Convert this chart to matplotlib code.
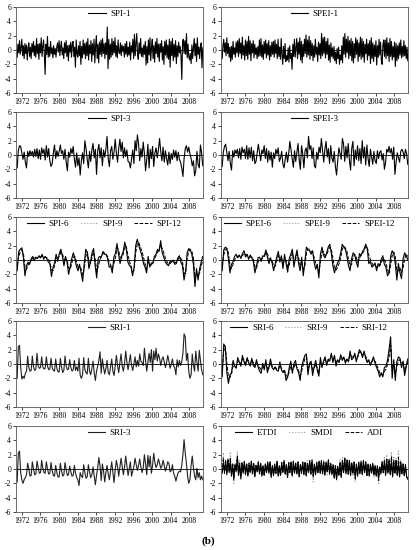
import numpy as np
import matplotlib
matplotlib.use("Agg")
import matplotlib.pyplot as plt

plt.rcParams['font.family'] = ['Liberation Serif', 'DejaVu Serif']
plt.rcParams['axes.unicode_minus'] = False

start_year = 1971.0
end_year = 2010.9
year_ticks = [1972, 1976, 1980, 1984, 1988, 1992, 1996, 2000, 2004, 2008]
y_ticks = [-6, -4, -2, 0, 2, 4, 6]

# SPI-1 (6 values per year)
spi1 = [
    -1.0, 0.8, -0.4, 1.3, -0.6, 0.5,
    1.5, -0.8, 0.6, -1.2, 0.9, -0.5,
    0.7, -1.4, 0.3, 1.0, -0.9, 0.4,
    -1.2, 0.9, -0.3, 1.2, -0.8, 0.6,
    -1.0, 1.6, -0.5, 0.8, -1.3, 0.9,
    -0.4, 1.7, -0.9, 0.5, 1.4, -0.7,
    -3.4, 0.8, -0.6, 1.9, -1.0, 0.4,
    -0.9, 1.2, -0.5, 0.3, -1.1, 0.6,
    -0.6, 0.2, -1.0, 0.4, 1.0, -0.3,
    1.3, -0.8, 0.5, 1.2, -0.7, 0.3,
    -1.2, 1.0, -0.4, 1.3, -0.9, 0.6,
    -1.5, 0.7, -0.3, 1.1, -1.0, 0.8,
    1.2, -0.9, 0.4, -2.4, 1.4, -0.5,
    -1.0, 0.6, -0.8, 1.2, -2.0, 0.5,
    -1.1, 1.4, -0.6, 0.9, -1.2, 1.1,
    -0.8, 1.6, -1.4, 0.7, -0.5, 1.3,
    -1.6, 0.9, -0.7, 1.5, -1.8, 0.6,
    2.0, -1.2, 0.8, -1.8, 1.1, -0.6,
    1.4, -0.9, 1.6, -0.5, 0.9, -1.2,
    1.0, -0.6, 3.2, -2.6, 1.5, -1.3,
    0.8, -1.0, 1.6, -0.7, 1.2, -0.4,
    1.7, -0.9, 0.6, -1.1, 1.4, -0.3,
    -0.5, 1.0, -0.8, 0.7, -0.2, 0.5,
    -1.0, 0.9, -0.6, 1.2, -0.9, 0.4,
    -0.7, 1.1, -1.4, 0.6, -0.3, 1.5,
    -1.2, 2.2, -0.8, 0.9, 2.3, -0.6,
    -1.3, 1.0, -0.5, 1.6, -0.9, 0.3,
    -1.0, 0.7, -0.6, 1.2, -2.1, 0.5,
    -1.8, 1.4, -0.7, 1.7, -1.5, 0.4,
    1.5, -1.2, 0.6, -1.7, 1.1, -0.5,
    1.6, -1.0, 0.8, -1.6, 0.9, -0.3,
    1.3, -1.4, 0.5, -2.0, 1.2, -0.7,
    1.4, -1.1, 0.7, -1.3, 1.5, -2.4,
    1.2, -0.8, 1.6, -1.5, 0.8, -1.0,
    1.3, -1.9, 0.6, -0.9, 1.1, -0.4,
    0.5, -0.9, -4.1, 1.2, 1.5, -0.5,
    1.3, -0.6, 2.3, -1.1, 0.8, -0.9,
    -1.4, -0.5, -1.9, 0.7, -1.2, 0.4,
    1.6, -0.8, 0.9, -1.6, 1.7, -0.6,
    0.4, -1.2, 0.5, 1.0, -2.5, 0.3,
]

# SPEI-1 (6 values per year)
spei1 = [
    -1.2, 0.6, 1.5, -0.3, 1.0, -0.8,
    1.7, -0.5, 0.9, -1.0, 0.4, -1.6,
    0.5, -1.3, 1.2, -0.6, 0.3, -1.0,
    1.1, -0.4, 1.3, -0.9, 1.6, -0.5,
    1.0, -1.2, 1.8, -0.7, 0.6, -1.4,
    1.4, -0.8, 1.2, -1.3, 1.9, -0.6,
    1.3, -1.5, 0.9, -0.4, 1.3, -1.1,
    0.8, -0.6, 0.3, -1.2, 0.5, -0.9,
    1.4, -0.8, 1.6, -1.0, 0.7, -1.3,
    1.2, -0.5, 1.4, -1.1, 0.9, -0.7,
    1.3, -1.4, 0.6, -0.9, 1.1, -0.6,
    1.2, -1.0, 1.4, -0.5, 0.8, -1.2,
    1.5, -0.9, 0.4, -1.3, 1.6, -0.7,
    -2.0, 0.5, -1.2, 0.9, -1.6, -0.8,
    -1.4, 0.3, -1.7, 0.6, -1.2, -0.5,
    -2.7, 0.8, -0.9, 1.5, -1.0, 0.4,
    1.6, -1.2, 1.1, -0.6, 1.7, -1.4,
    1.2, -1.8, 0.8, -0.9, 1.5, -0.5,
    2.1, -1.0, 1.4, -0.7, 1.9, -1.3,
    1.3, -0.8, 0.9, -1.5, 0.6, -1.0,
    1.5, -0.6, 0.4, -1.6, 1.1, -0.7,
    0.9, -1.2, 2.3, -0.8, 1.7, -0.5,
    1.8, -1.1, 1.2, -0.6, 1.6, -1.4,
    0.7, -1.7, 1.0, -0.9, 0.3, -1.2,
    0.5, -1.5, -0.3, -1.9, 0.2, -1.2,
    0.4, -2.0, -0.7, -1.4, 0.6, -1.8,
    1.8, -0.6, 2.3, -1.0, 1.5, -0.4,
    1.9, -1.2, 1.3, -0.8, 1.6, -1.5,
    1.2, -1.8, 0.9, -1.1, 1.7, -0.6,
    1.4, -1.6, 1.0, -0.9, 1.8, -1.3,
    1.6, -1.0, 1.2, -1.7, 0.8, -0.5,
    1.5, -1.4, 0.9, -0.8, 1.3, -1.9,
    1.7, -1.2, 1.0, -1.6, 0.7, -0.9,
    1.3, -2.1, 0.6, -1.0, 1.5, -0.7,
    1.1, -1.5, -2.0, 0.7, 1.4, -0.9,
    1.4, -1.2, 1.7, -0.8, 1.0, -1.6,
    1.6, -0.9, 1.2, -1.4, 0.5, -1.0,
    1.1, -2.3, 0.9, -1.5, 0.6, -1.2,
    1.0, -0.7, 1.4, -1.1, 0.5, -0.9,
    1.3, -0.8, 0.6, -1.2, 0.4, -1.5,
]

# SPI-3 (4 values per year)
spi3 = [
    -1.8, 0.6, 1.3, 1.2,   0.3, -0.6, 0.4, -1.0,   -1.8, 0.5, -0.2, 0.6,
    0.0, 0.5, -0.3, 0.8,   -0.2, 0.9, -0.5, 0.7,   -0.6, 1.0, 0.2, 0.8,
    -0.7, 1.3, -0.3, 0.9,  -0.8, -1.6, -1.2, 0.3,  1.4, -0.5, 0.6, -0.2,
    0.5, 1.4, 0.2, 0.6,    -0.6, 0.8, -1.0, -2.2,  0.4, -0.3, 0.9, 0.2,
    1.2, -0.6, -1.7, 0.3,  -1.5, -0.4, -2.8, -0.8, 0.3, -1.2, 2.0, 0.9,
    -0.6, -1.8, 0.5, -0.9, 0.7, 1.6, -0.4, 0.8,   -2.7, 0.6, 1.5, -0.4,
    1.0, -1.5, 0.7, -0.3,  0.8, 2.6, -0.5, -1.6,  0.6, 1.2, -0.6, 0.4,
    2.2, 0.3, -1.0, 0.9,   2.2, 0.5, 1.8, -0.4,   1.0, -0.2, 0.7, -0.9,
    -1.0, -1.8, -0.5, 0.7, -1.2, 2.0, 0.6, 2.8,   1.5, -0.8, 0.9, -0.3,
    1.8, 0.2, -2.2, -0.6,  1.5, -1.8, 0.8, -0.5,  1.2, -1.6, 0.3, 1.0,
    -0.4, 0.7, 2.3, 0.5,   -0.8, 1.1, -1.0, 0.6,  -0.5, -1.4, 0.4, -1.2,
    0.2, -0.6, 0.7, -0.3,  0.6, -0.8, 0.4, -0.6,  -1.0, -1.8, -3.0, -0.5,
    0.9, 1.3, 0.4, 1.1,    0.2, -0.5, -1.5, -0.8, -2.9, -2.2, 0.5, -1.3,
    -1.8, 1.4, 0.3, -1.5,
]

# SPEI-3 (4 values per year)
spei3 = [
    -1.6, 0.4, 1.2, 1.5,   0.3, -0.8, 0.5, -1.2,  -2.1, 0.6, -0.3, 0.7,
    0.2, 0.8, -0.4, 0.9,   -0.6, 1.1, 0.3, 0.8,   -0.5, 1.3, -0.6, 1.0,
    -0.4, 1.1, -0.8, 0.6,  -1.2, -0.9, 0.3, 1.5,  0.4, -0.8, 0.7, 0.2,
    1.3, -0.5, 0.9, -1.0,  0.6, -0.7, 0.4, -1.7,  0.3, -0.5, 0.8, 0.1,
    1.0, -0.9, -0.4, 0.5,  -1.2, -1.8, -0.6, 0.4, -1.0, 0.2, 1.9, 0.7,
    -0.5, -1.7, 0.6, -0.9, 0.4, 1.6, -0.7, -2.0,  1.3, 0.2, -1.8, 0.6,
    1.0, -0.4, 2.6, 0.8,   1.3, -0.5, 1.0, -1.5,  -1.8, 0.4, -0.6, 1.1,
    0.3, 2.3, 0.6, -1.0,   0.8, 1.9, -0.3, 0.9,   -1.2, 1.3, -0.4, -1.0,
    0.5, -1.6, -2.8, -0.8, 1.0, 0.2, -0.6, 2.3,   1.5, -0.9, 1.2, -0.4,
    1.6, -0.7, -2.1, 0.9,  1.9, -1.5, 0.7, -0.6,  1.3, -0.8, 0.9, -1.2,
    2.0, -0.4, 1.1, -1.4,  1.4, -0.5, -1.6, 0.8,  -0.3, -1.3, 0.5, -0.8,
    -1.2, 0.6, -0.5, 0.4,  0.6, -0.7, 0.2, -2.0,  -1.0, 0.8, 0.4, 1.2,
    0.3, 0.9, -0.6, 1.1,   -2.7, -1.0, 0.3, -0.4, -1.0, 0.5, 0.8, 0.4,
    -0.5, 0.8, 0.2, -1.3,
]

# SPI-6, SPI-9, SPI-12 (3 values per year)
spi6 = [
    -1.5, 1.2, 1.5,  1.7, 0.3, -2.2,  -0.8, -0.3, -0.6,  0.2, 0.5, -0.1,
    0.4, 0.2, 0.6,   0.3, 0.8, 0.1,   0.5, 0.2, -0.3,    -0.5, -2.3, -1.0,
    -0.4, 0.8, -0.2, 0.9, 1.5, 0.5,   -0.8, 0.5, -0.3,   -2.0, -0.9, 0.2,
    1.0, 0.2, -0.9,  -1.5, -0.6, -1.8, -3.0, -0.5, 1.5,  1.0, -1.2, -0.3,
    1.0, 1.6, -0.8,  -2.5, 0.3, 0.5,  0.4, 1.2, 0.8,     0.8, 0.2, -1.0,
    -0.9, -1.8, 0.4, 0.9, 2.3, 0.8,   -0.5, 0.6, 1.2,    2.5, 1.4, -0.3,
    -0.8, -1.0, -2.2, -1.0, 2.0, 2.9, 2.0, 1.3, 0.6,     -0.5, -1.0, -1.8,
    0.5, -1.0, -0.4, -0.5, 0.5, 0.8,  1.5, 1.2, 2.7,     1.0, 0.4, -0.3,
    -0.6, -0.8, -0.2, -0.3, 0.0, -0.6, -0.5, 0.3, 0.6,   -0.3, -0.8, -2.8,
    -1.5, 1.0, 1.6,  1.4, 0.8, -0.6,  -3.7, -1.2, -2.8,  -1.2, -0.3, 0.5,
]
spi9 = [
    -1.0, 0.8, 1.3,  1.6, 0.8, -1.5,  -1.2, -0.5, -0.4,  0.0, 0.4, 0.2,
    0.3, 0.3, 0.5,   0.4, 0.6, 0.3,   0.4, 0.3, 0.0,     -0.3, -1.8, -1.4,
    -0.6, 0.4, 0.2,  0.6, 1.3, 0.8,   -0.3, 0.2, -0.1,   -1.5, -1.2, -0.2,
    0.7, 0.5, -0.5,  -1.2, -0.9, -1.4, -2.5, -1.0, 1.0,  1.2, -0.6, -0.5,
    0.6, 1.4, -0.2,  -2.0, -0.5, 0.3, 0.5, 1.0, 1.0,     0.7, 0.4, -0.6,
    -0.9, -1.5, -0.2, 0.6, 2.0, 1.2,  0.0, 0.4, 1.0,     2.2, 1.7, 0.2,
    -0.5, -1.0, -1.9, -1.3, 1.5, 2.6, 2.3, 1.6, 0.9,     0.0, -0.8, -1.5,
    0.0, -0.8, -0.6, -0.4, 0.3, 0.7,  1.3, 1.4, 2.4,     1.4, 0.7, 0.0,
    -0.4, -0.7, -0.4, -0.3, -0.1, -0.4, -0.5, 0.1, 0.5,  0.0, -0.5, -2.4,
    -1.8, 0.6, 1.4,  1.5, 1.0, -0.1,  -3.0, -1.8, -2.4,  -1.6, -0.6, 0.3,
]
spi12 = [
    -0.8, 0.5, 1.1,  1.4, 1.0, -1.0,  -1.3, -0.7, -0.4,  -0.1, 0.3, 0.3,
    0.3, 0.3, 0.4,   0.4, 0.5, 0.4,   0.4, 0.3, 0.1,     -0.2, -1.4, -1.5,
    -0.8, 0.1, 0.3,  0.5, 1.1, 0.9,   0.1, 0.1, 0.0,     -1.1, -1.3, -0.5,
    0.4, 0.5, -0.2,  -0.9, -1.0, -1.2, -2.1, -1.3, 0.5,  1.1, -0.2, -0.5,
    0.3, 1.1, 0.2,   -1.6, -0.9, 0.0, 0.5, 0.9, 1.0,     0.8, 0.5, -0.3,
    -0.7, -1.2, -0.5, 0.3, 1.7, 1.4,  0.4, 0.3, 0.8,     1.9, 1.9, 0.7,
    -0.2, -0.8, -1.6, -1.4, 1.0, 2.2, 2.4, 1.8, 1.2,     0.4, -0.5, -1.2,
    -0.3, -0.7, -0.7, -0.4, 0.1, 0.6, 1.1, 1.4, 2.1,     1.6, 1.0, 0.3,
    -0.2, -0.6, -0.5, -0.3, -0.2, -0.3, -0.4, 0.0, 0.4,  0.2, -0.2, -1.9,
    -1.9, 0.2, 1.2,  1.5, 1.2, 0.3,   -2.4, -2.0, -2.1,  -1.8, -0.9, 0.0,
]

# SPEI-6, SPEI-9, SPEI-12 (3 values per year)
spei6 = [
    -1.5, 1.4, 1.8,  1.6, 0.2, -1.8,  -0.6, -0.2, 0.5,   0.8, 0.3, 0.7,
    0.2, 0.9, 1.3,   0.4, 0.8, 0.1,   0.7, 0.3, -0.2,    -1.8, -0.8, 0.3,
    0.4, -0.2, 0.6,  0.5, 1.4, 0.4,   -0.5, 0.3, -0.4,   -1.5, -0.5, 0.4,
    1.2, -0.3, 0.6,  -1.2, 0.8, -0.5, -1.7, 0.2, 0.8,    1.5, -1.0, 0.4,
    1.4, -0.5, -1.5, 0.4, -2.2, -0.3, 1.8, 1.5, 1.3,     0.8, 1.3, -0.4,
    -1.3, -0.6, -2.5, 0.8, 1.8, 0.6,  0.3, 1.0, 1.8,     2.2, 0.9, -0.8,
    -1.8, -1.0, -0.4, 0.0, 1.0, 2.2,  1.8, 1.5, 0.5,     -0.8, -1.5, 0.2,
    1.0, 0.7, -0.3,  -1.0, 0.9, 0.6,  1.2, 1.5, 2.2,     1.6, -0.5, -0.2,
    -1.0, -0.8, -0.4, -1.5, -0.5, -0.8, 0.1, 0.6, -0.6,  -1.0, -2.2, -1.8,
    0.5, 1.3, 0.9,   -0.5, -2.8, -0.5, -1.8, -2.6, 0.2,  1.0, 0.6, 0.0,
]
spei9 = [
    -1.0, 1.0, 1.6,  1.7, 0.7, -1.2,  -1.0, -0.4, 0.2,   0.6, 0.5, 0.6,
    0.4, 0.7, 1.1,   0.7, 0.7, 0.3,   0.5, 0.4, 0.0,     -1.3, -1.1, 0.0,
    0.3, 0.0, 0.4,   0.5, 1.2, 0.7,   -0.1, 0.1, -0.2,   -1.1, -0.8, 0.1,
    0.9, 0.2, 0.3,   -0.8, 0.3, -0.2, -1.3, -0.4, 0.5,   1.3, -0.3, 0.1,
    1.1, 0.1, -1.1,  -0.1, -1.7, -0.6, 1.4, 1.6, 1.4,    1.0, 1.1, 0.1,
    -0.9, -0.8, -2.0, 0.2, 1.5, 1.0,  0.4, 0.8, 1.6,     2.0, 1.3, -0.2,
    -1.4, -1.3, -0.7, -0.3, 0.6, 1.9, 1.9, 1.6, 0.9,     -0.3, -1.2, -0.3,
    0.7, 0.8, 0.1,   -0.6, 0.5, 0.7,  1.0, 1.4, 2.0,     1.8, 0.2, -0.1,
    -0.7, -0.9, -0.6, -1.2, -0.8, -0.7, -0.2, 0.4, -0.2, -0.7, -1.8, -2.0,
    -0.2, 1.0, 1.1,  0.1, -2.2, -1.2, -1.4, -2.2, -0.6,  0.6, 0.8, 0.3,
]
spei12 = [
    -0.8, 0.7, 1.4,  1.6, 1.0, -0.7,  -1.2, -0.6, 0.0,   0.4, 0.5, 0.6,
    0.5, 0.6, 0.9,   0.8, 0.7, 0.5,   0.4, 0.4, 0.1,     -0.9, -1.2, -0.3,
    0.1, 0.1, 0.3,   0.5, 1.0, 0.9,   0.2, 0.0, -0.1,    -0.8, -0.9, -0.2,
    0.6, 0.4, 0.2,   -0.5, 0.0, -0.1, -1.0, -0.7, 0.2,   1.0, 0.2, 0.0,
    0.8, 0.4, -0.7,  -0.4, -1.3, -0.9, 0.9, 1.5, 1.5,    1.2, 1.0, 0.4,
    -0.5, -0.9, -1.6, -0.3, 1.1, 1.2, 0.6, 0.7, 1.3,     1.8, 1.5, 0.3,
    -1.0, -1.4, -1.0, -0.5, 0.3, 1.5, 1.9, 1.7, 1.2,     0.1, -0.8, -0.6,
    0.4, 0.8, 0.4,   -0.3, 0.2, 0.7,  0.9, 1.3, 1.8,     1.9, 0.7, 0.1,
    -0.4, -0.8, -0.7, -1.0, -1.0, -0.8, -0.4, 0.1, 0.1,  -0.4, -1.3, -1.9,
    -0.7, 0.6, 1.1,  0.5, -1.6, -1.5, -1.1, -1.8, -1.1,  0.1, 0.8, 0.5,
]

# SRI-1 and SRI-3 (4 values per year)
sri1 = [
    -2.0, 2.4, 2.6, -0.4,  -2.1, -1.7, -2.0, -1.3, -1.0, 1.1, -0.5, -1.0,
    -0.9, 1.1, -0.4, -0.9, -0.7, 1.5, -0.3, -0.6,  -0.5, 1.0, -0.4, -0.7,
    -0.6, 1.0, -0.3, -0.8, -0.7, 0.8, -0.5, -0.9,  -1.0, 0.7, -0.6, -1.1,
    -1.1, 0.8, -0.4, -1.2, -0.9, 1.1, -0.3, -0.8,  -0.7, 0.6, -0.5, -1.0,
    -0.8, 0.5, -0.9, -0.4, -1.0, 0.8, -1.6, -2.0,  -1.5, 0.9, -0.8, -1.2,
    -1.4, 0.8, -1.0, -1.5, -0.6, 0.4, -1.2, -2.3,  -1.0, -0.3, 0.5, 1.7,
    -1.3, 0.7, -0.5, -1.4, -0.6, 0.5, -1.2, -1.5,  -0.4, 0.7, -1.0, -1.6,
    -0.3, 1.2, -0.2, -1.2, 0.2, 1.4, -0.3, -1.0,   0.1, 1.8, 0.3, -0.8,
    0.3, 1.3, -0.2, -0.9,  0.0, 1.0, -0.4, 0.5,    -0.3, 1.4, 0.4, 0.2,
    -0.2, 2.2, 0.5, -1.0,  0.3, 1.5, 0.2, 2.0,     -1.0, 1.8, 0.6, 2.2,
    0.4, 1.4, 0.8, -0.2,   0.6, 1.0, 0.3, -0.5,    0.2, 1.2, 0.4, -0.6,
    0.0, 0.7, -0.3, -0.5,  -1.5, 0.6, -0.4, 0.5,   -0.2, 0.3, 1.5, 4.2,
    3.8, 0.5, 1.5, -1.0,   -2.0, -1.5, 1.4, -0.2,  -1.0, 1.8, 0.3, -1.0,
    1.9, 0.6, -0.8, -1.5,
]
sri3 = [
    -1.8, 2.2, 2.5, -0.5,  -1.5, -2.0, -1.5, -1.2, -0.8, 0.8, 0.0, -1.0,
    -0.9, 1.0, 0.0, -0.8,  -0.7, 1.1, 0.2, -0.6,   -0.5, 1.2, 0.1, -0.5,
    -0.6, 1.0, 0.0, -0.7,  -0.6, 0.9, -0.2, -0.9,  -1.0, 0.5, -0.5, -1.1,
    -1.1, 0.8, -0.2, -1.0, -0.8, 0.9, -0.1, -0.9,  -0.8, 0.4, -0.4, -1.0,
    -0.9, 0.5, -0.6, -1.2, -1.5, -2.3, -0.5, -1.0, -1.2, 0.6, -0.5, -1.3,
    -1.1, 0.6, -0.4, -1.2, -0.8, 0.3, -1.0, -2.2,  -0.9, 0.2, 1.6, 0.4,
    -1.6, 0.7, -0.3, -1.8, -0.5, 0.5, -0.7, -1.5,  -0.2, 1.0, -0.4, -1.9,
    -0.1, 1.2, 0.3, -1.0,  0.2, 1.5, 0.4, -0.8,    0.3, 1.8, 0.5, -0.9,
    0.0, 1.0, -1.0, -0.3,  0.4, 1.5, 0.6, -0.2,    0.5, 1.4, 0.3, -0.5,
    0.2, 2.0, 0.7, -0.8,   1.9, 0.3, 1.8, -0.6,    0.5, 2.2, 0.9, 0.2,
    0.6, 1.4, 0.8, 0.1,    0.4, 1.2, 0.5, -0.3,    0.3, 1.0, 0.8, -0.4,
    -0.2, 0.6, -0.6, -1.0, -1.7, -1.0, -0.5, -0.3, -0.4, 0.5, 2.0, 4.1,
    2.2, 0.8, -1.0, -2.0,  -1.5, 0.5, 1.8, 0.2,    -1.0, -1.5, 0.1, -1.2,
    -0.5, -1.5, -1.0, -1.5,
]

# SRI-6, SRI-9, SRI-12 (3 values per year)
sri6 = [
    -1.8, 2.8, 2.4,  -1.2, -2.7, -1.5, -1.2, 0.5, -0.3,  -0.6, 0.9, 0.2,
    -0.3, 1.2, 0.3,  -0.2, 0.9, 0.1,  -0.3, 0.8, -0.2,   -0.5, 0.6, -0.4,
    -1.0, -1.3, 0.1, -0.8, 0.6, -1.2, -0.4, 0.7, -0.5,   -0.8, -0.4, -0.9,
    -1.0, 0.3, -0.8, -1.2, -0.9, -2.3, -1.8, -0.5, 0.4,  -1.3, 0.0, 0.5,
    -0.7, -1.2, -2.3, -0.3, 0.5, 1.2, 1.4, -1.5, 0.1,    0.4, -1.6, -0.3,
    0.5, -0.9, -1.7, 0.9, -0.5, 0.4,  1.0, -0.2, 0.7,    0.4, 1.5, 0.2,
    1.2, -0.3, 0.6,  0.2, 1.3, 0.5,   1.0, 0.1, 0.7,     0.3, 1.8, 0.6,
    0.8, 1.5, 0.3,   1.2, 2.0, 1.6,   0.9, 1.8, 0.8,     0.2, 0.6, -0.2,
    0.4, 1.0, 0.1,   -0.5, -1.0, -1.8, -1.2, -1.8, -0.5, -0.3, 0.5, 2.0,
    3.8, -2.0, 0.6,  -2.3, 0.3, 1.0,  0.8, -0.5, 0.4,    -1.6, -0.2, 0.7,
]
sri9 = [
    -1.4, 2.3, 2.6,  -0.5, -2.2, -1.8, -1.3, 0.1, -0.2,  -0.5, 0.6, 0.4,
    -0.1, 0.9, 0.5,  0.0, 0.7, 0.3,   -0.1, 0.6, 0.1,    -0.3, 0.4, -0.2,
    -0.7, -1.0, -0.3, -0.5, 0.3, -0.8, -0.6, 0.4, -0.3,  -0.6, -0.5, -0.8,
    -0.9, 0.0, -0.7, -1.0, -1.0, -1.9, -1.9, -0.9, 0.0,  -1.0, -0.3, 0.2,
    -0.6, -1.0, -1.9, -0.8, 0.2, 0.9, 1.2, -0.9, -0.2,   0.2, -1.1, -0.5,
    0.2, -0.7, -1.4, 0.5, -0.2, 0.2,  0.8, 0.0, 0.5,     0.5, 1.3, 0.5,
    1.0, 0.1, 0.5,   0.3, 1.1, 0.7,   0.9, 0.3, 0.6,     0.4, 1.5, 0.9,
    0.8, 1.3, 0.6,   1.1, 1.8, 1.7,   1.1, 1.6, 1.0,     0.4, 0.5, 0.0,
    0.3, 0.8, 0.3,   -0.3, -0.8, -1.5, -1.4, -1.6, -0.9, -0.5, 0.2, 1.5,
    3.2, -1.2, 0.2,  -1.8, -0.2, 0.7, 0.7, 0.0, 0.2,     -1.2, -0.4, 0.5,
]
sri12 = [
    -1.2, 1.8, 2.4,  0.2, -1.8, -1.9, -1.4, -0.3, -0.3,  -0.4, 0.4, 0.4,
    0.0, 0.7, 0.6,   0.1, 0.6, 0.4,   0.0, 0.5, 0.2,     -0.2, 0.3, -0.1,
    -0.5, -0.8, -0.5, -0.4, 0.1, -0.6, -0.6, 0.2, -0.3,  -0.5, -0.5, -0.7,
    -0.8, -0.2, -0.6, -0.9, -1.0, -1.6, -1.8, -1.1, -0.3, -0.8, -0.5, 0.0,
    -0.5, -0.9, -1.6, -1.0, -0.1, 0.7, 1.0, -0.5, -0.3,  0.1, -0.8, -0.6,
    0.0, -0.6, -1.1, 0.3, -0.1, 0.1,  0.6, 0.2, 0.4,     0.6, 1.1, 0.7,
    0.9, 0.3, 0.5,   0.4, 0.9, 0.8,   0.8, 0.5, 0.6,     0.5, 1.3, 1.1,
    0.9, 1.2, 0.8,   1.0, 1.6, 1.7,   1.3, 1.5, 1.1,     0.6, 0.4, 0.1,
    0.3, 0.6, 0.4,   -0.1, -0.6, -1.2, -1.5, -1.5, -1.1, -0.7, -0.1, 1.0,
    2.6, -0.6, 0.0,  -1.3, -0.4, 0.4, 0.6, 0.2, 0.1,     -0.9, -0.5, 0.3,
]

# ETDI, SMDI, ADI (4 values per year)
etdi = [
    -0.6, 0.8, -0.3, 1.2,  -0.8, 1.4, -0.5, 0.9,  -1.0, 0.6, -1.5, 0.7,
    -0.4, 1.5, -0.9, 0.5,  -1.4, 0.9, -0.6, 1.1,  -0.8, 0.7, -1.0, 0.6,
    -0.5, 1.1, -0.7, 0.8,  -1.1, 0.5, -0.4, 0.9,  -0.7, 0.8, -1.0, 0.4,
    -0.9, 0.6, -0.5, 1.0,  -0.6, 0.9, -1.2, 0.5,  -0.8, 0.7, -0.6, 1.1,
    -1.0, 0.4, -0.9, 0.8,  -0.5, 1.2, -0.7, 0.6,  -1.2, 0.8, -0.4, 1.0,
    -0.9, 1.1, -0.6, 0.7,  -0.7, 0.9, -1.1, 0.5,  -0.4, 1.0, -0.8, 0.9,
    -1.0, 0.7, -0.5, 1.2,  -0.6, 1.3, -0.9, 0.6,  -0.8, 0.8, -0.4, 1.1,
    -0.5, 1.2, -0.7, 0.9,  -0.9, 1.0, -0.3, 1.3,  -0.6, 0.8, -0.8, 0.5,
    -1.3, 0.4, -1.5, 0.3,  -0.9, 0.6, -1.2, 1.0,  -0.4, 1.5, -0.6, 1.3,
    -0.7, 1.2, -0.9, 0.8,  -0.5, 1.0, -1.1, 0.7,  -1.0, 0.9, -0.6, 1.1,
    -0.8, 1.2, -0.5, 0.9,  -0.9, 0.7, -1.0, 0.6,  -0.6, 0.8, -0.8, 0.5,
    -1.0, 0.4, -1.2, 0.3,  -0.7, 0.9, -0.5, 1.0,  -0.9, 1.1, -0.6, 1.3,
    -0.8, 1.0, -1.1, 0.9,  -0.6, 1.2, -0.9, 0.7,  -1.1, 0.8, -0.7, 0.6,
    -0.9, 0.5, -1.0, -1.4,
]
smdi = [
    0.3, 2.3, -0.5, 0.6,   -0.4, 1.0, 0.2, 2.4,   -0.6, 0.8, -2.0, 0.4,
    0.5, 2.5, 0.1, 1.2,    -0.9, 0.6, -0.3, 0.9,  -0.5, 0.8, -0.7, 1.0,
    -0.3, 0.9, -0.8, 0.6,  -0.7, 0.4, -0.3, 1.2,  -0.4, 0.6, -0.9, 0.5,
    -1.0, 0.8, -0.4, 0.7,  -0.5, 1.1, -0.8, 0.4,  -1.1, 0.5, -0.5, 0.9,
    -0.7, 0.6, -1.0, 1.0,  -0.4, 0.9, -0.6, 0.5,  -0.9, 1.0, -0.5, 0.8,
    -1.1, 0.7, -0.4, 0.9,  -0.5, 1.1, -0.9, 0.6,  -0.8, 0.8, -0.6, 1.0,
    -0.6, 1.2, -0.4, 0.7,  -0.9, 0.6, -1.8, 0.8,  -0.4, 1.0, -0.6, 0.9,
    -0.7, 0.9, -0.5, 1.2,  -0.5, 0.8, -0.8, 1.0,  -0.9, 0.6, -0.5, 0.7,
    -1.0, 0.5, -1.2, 0.4,  -0.6, 1.4, -0.9, 1.7,  -0.5, 1.6, -0.7, 1.1,
    -0.8, 1.0, -0.6, 0.9,  -1.0, 0.8, -1.8, 0.6,  -0.6, 1.0, -0.7, 0.8,
    -0.7, 0.9, -0.4, 1.1,  -0.9, 0.6, -0.8, 0.7,  -0.5, 0.7, -1.1, 0.4,
    -0.8, 0.5, -2.0, 0.3,  -0.4, 1.2, -0.6, 1.6,  -0.7, 2.0, -0.3, 1.4,
    -0.6, 2.4, -0.8, 1.8,  -0.5, 1.5, -0.9, 2.5,  -0.8, 1.3, -0.6, 0.9,
    -1.0, 0.8, -1.2, -1.5,
]
adi = [
    -0.4, 1.5, -0.6, 0.9,  -0.6, 1.2, -0.2, 1.6,  -0.8, 0.7, -1.2, 0.5,
    0.1, 1.8, -0.5, 0.8,   -1.1, 0.8, -0.4, 1.0,  -0.7, 0.6, -0.8, 0.8,
    -0.4, 1.0, -0.6, 0.7,  -0.9, 0.5, -0.3, 1.0,  -0.6, 0.7, -0.9, 0.5,
    -0.8, 0.7, -0.4, 0.9,  -0.5, 1.0, -1.0, 0.4,  -0.9, 0.6, -0.6, 1.0,
    -0.8, 0.5, -0.9, 0.9,  -0.4, 1.0, -0.7, 0.6,  -1.0, 0.9, -0.5, 0.9,
    -1.0, 0.9, -0.5, 0.8,  -0.6, 1.0, -1.0, 0.6,  -0.6, 0.9, -0.7, 1.0,
    -0.8, 0.9, -0.5, 1.0,  -0.7, 1.0, -1.2, 0.7,  -0.6, 0.9, -0.5, 1.0,
    -0.6, 1.0, -0.6, 1.0,  -0.7, 0.9, -0.5, 1.1,  -0.7, 0.7, -0.6, 0.6,
    -1.1, 0.5, -1.3, 0.4,  -0.8, 1.0, -1.0, 1.3,  -0.5, 1.5, -0.6, 1.2,
    -0.7, 1.1, -0.8, 0.9,  -0.7, 0.9, -1.4, 0.6,  -0.8, 0.9, -0.6, 0.9,
    -0.7, 1.0, -0.5, 1.0,  -0.9, 0.6, -0.9, 0.6,  -0.5, 0.7, -0.9, 0.4,
    -0.9, 0.4, -1.6, 0.3,  -0.5, 1.0, -0.5, 1.3,  -0.8, 1.5, -0.4, 1.3,
    -0.7, 1.7, -0.9, 1.3,  -0.5, 1.3, -0.9, 1.6,  -0.9, 1.0, -0.6, 0.7,
    -1.0, 0.6, -1.1, -1.5,
]

# line styles: solid black, dotted grey, dashed black
solid = dict(color='black', linestyle='-', linewidth=0.8)
dotted = dict(color='#9a9a9a', linestyle=':', linewidth=0.8)
dashed = dict(color='black', linestyle='--', linewidth=0.7)
grey_solid = dict(color='#222222', linestyle='-', linewidth=0.8)

# panels: (series list, labels, styles)
panels = [
    ([spi1], ['SPI-1'], [solid]),
    ([spei1], ['SPEI-1'], [solid]),
    ([spi3], ['SPI-3'], [solid]),
    ([spei3], ['SPEI-3'], [solid]),
    ([spi9, spi12, spi6], ['SPI-9', 'SPI-12', 'SPI-6'], [dotted, dashed, solid]),
    ([spei9, spei12, spei6], ['SPEI-9', 'SPEI-12', 'SPEI-6'], [dotted, dashed, solid]),
    ([sri1], ['SRI-1'], [grey_solid]),
    ([sri9, sri12, sri6], ['SRI-9', 'SRI-12', 'SRI-6'], [dotted, dashed, solid]),
    ([sri3], ['SRI-3'], [grey_solid]),
    ([smdi, adi, etdi], ['SMDI', 'ADI', 'ETDI'], [dotted, dashed, solid]),
]

fig = plt.figure(figsize=(4.16, 5.5), dpi=100)

W, H = 416.0, 550.0
col_left = [16, 221]
row_top = [7, 112, 217, 321, 426]
ax_w = 187
ax_h = 86

for i, (series, labels, styles) in enumerate(panels):
    r, c = divmod(i, 2)
    ax = fig.add_axes([col_left[c] / W, 1 - (row_top[r] + ax_h) / H, ax_w / W, ax_h / H])

    lines = {}
    for vals, lab, st in zip(series, labels, styles):
        t = np.linspace(start_year, end_year, len(vals))
        ln, = ax.plot(t, vals, label=lab, **st)
        lines[lab] = ln

    ax.axhline(0, color='black', linewidth=0.6)

    # legend order as in the original: X-6 (or ETDI) first
    if len(labels) == 3:
        order = [labels[2], labels[0], labels[1]]
        ax.legend([lines[k] for k in order], order, loc='upper center',
                  bbox_to_anchor=(0.47, 1.03), ncol=3, frameon=False,
                  fontsize=6.5, handlelength=1.9, columnspacing=1.3,
                  handletextpad=0.5, borderaxespad=0.2)
    else:
        ax.legend(loc='upper center', bbox_to_anchor=(0.5, 1.03), frameon=False,
                  fontsize=6.5, handlelength=1.9, handletextpad=0.5, borderaxespad=0.2)

    ax.set_xlim(1970.75, 2010.95)
    ax.set_ylim(-6, 6)
    ax.set_xticks(year_ticks)
    ax.set_yticks(y_ticks)
    ax.tick_params(axis='both', labelsize=5.5, length=2, width=0.5, pad=1.5, direction='out')
    for sp in ax.spines.values():
        sp.set_color('#555555')
        sp.set_linewidth(0.6)

fig.text(0.5, 1 - 541 / H, '(b)', ha='center', va='center', fontsize=8, fontweight='bold')

fig.savefig('out.png', dpi=100)
